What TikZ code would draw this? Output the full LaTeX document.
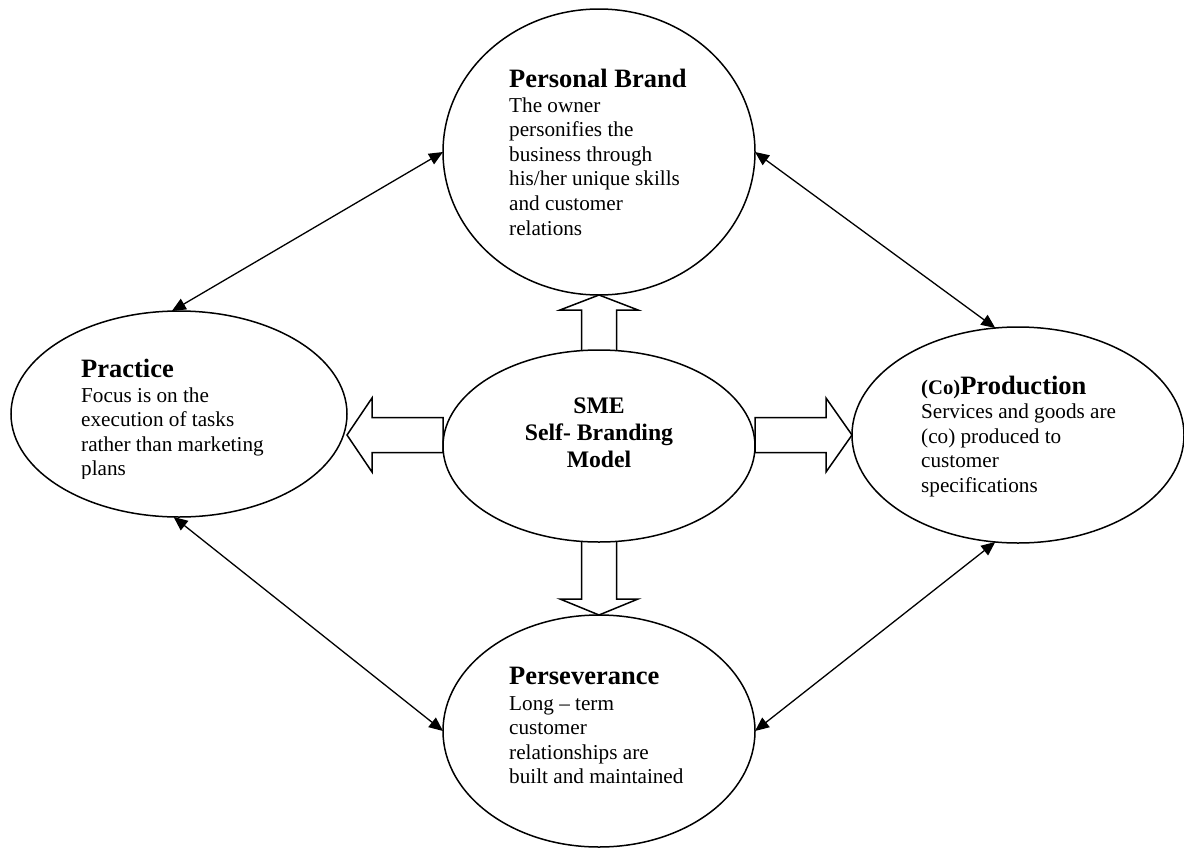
\documentclass[tikz,border=0pt]{standalone}
\usepackage{fontspec}
\setmainfont{Liberation Serif}
\usetikzlibrary{shapes.geometric,arrows.meta,calc}
\newcommand\bodyfnt{\fontsize{21.2}{24.6}\selectfont}
\newcommand\titlefnt{\fontsize{26.5}{30}\selectfont\bfseries}
\begin{document}
\begin{tikzpicture}[x=1pt,y=-1pt,
  ell/.style={ellipse,draw,line width=1.5pt,inner sep=0pt,outer sep=0pt},
  blk/.style={draw,line width=1.5pt,line join=miter},
  link/.style={line width=1.3pt,{Triangle[length=14pt,width=12pt]}-{Triangle[length=14pt,width=12pt]}},
  ttl/.style={anchor=base west,inner sep=0pt,font=\titlefnt},
  body/.style={anchor=base west,inner sep=0pt,align=left,font=\bodyfnt}]
\useasboundingbox[fill=white] (0,0) rectangle (1184,849);

% ellipses
\node[ell,minimum width=312pt,minimum height=286pt] (pb) at (599,152) {};
\node[ell,minimum width=336pt,minimum height=206pt] (prac) at (179,414) {};
\node[ell,minimum width=312pt,minimum height=192pt] (sme) at (599,446) {};
\node[ell,minimum width=332pt,minimum height=216pt] (prod) at (1018,435) {};
\node[ell,minimum width=312pt,minimum height=232pt] (per) at (599,731) {};

% texts (multi-line nodes are anchored at the baseline of their last line)
\node[ttl] (pbt) at (509,87) {Personal Brand};
\node[body] (pbb) at (509,235) {The owner\\personifies the\\business through\\his/her unique skills\\and customer\\relations};

\node[ttl] (pract) at (81,377) {Practice};
\begin{scope}
\clip (0,0) rectangle (1184,478);
\node[body] (pracb) at (81,475.8) {Focus is on the\\execution of tasks\\rather than marketing\\plans};
\end{scope}

\node[anchor=base,inner sep=0pt,align=center,font=\fontsize{23.7}{27}\selectfont\bfseries] (smet) at (599,467) {SME\\Self- Branding\\Model};

\node[ttl] (prodt) at (921,394) {{\fontsize{20.7}{24}\selectfont(Co)}Production};
\node[body] (prodb) at (921,492.3) {Services and goods are\\(co) produced to\\customer\\specifications};

\node[ttl] (pert) at (509,684) {Perseverance};
\node[body] (perb) at (509,783.8) {Long -- term\\customer\\relationships are\\built and maintained};

% block arrows
\draw[blk] ($(sme.north)+(-17.5,0)$) -- ($(pb.south)+(-17.5,15)$) -- ($(pb.south)+(-39,15)$) -- (pb.south) -- ($(pb.south)+(39,15)$) -- ($(pb.south)+(17.5,15)$) -- ($(sme.north)+(17.5,0)$);
\draw[blk] ($(sme.south)+(-17.5,0)$) -- ($(per.north)+(-17.5,-16)$) -- ($(per.north)+(-39,-16)$) -- (per.north) -- ($(per.north)+(39,-16)$) -- ($(per.north)+(17.5,-16)$) -- ($(sme.south)+(17.5,0)$);
\coordinate (ltip) at (prac.east |- prod.west);
\draw[blk] ($(sme.west)+(0,-28.5)$) -- ($(ltip)+(25,-17.5)$) -- ($(ltip)+(25,-37)$) -- (ltip) -- ($(ltip)+(25,37)$) -- ($(ltip)+(25,17.5)$) -- ($(sme.west)+(0,6.5)$) -- cycle;
\draw[blk] ($(sme.east)+(0,-28.5)$) -- ($(prod.west)+(-26,-17.5)$) -- ($(prod.west)+(-26,-37)$) -- (prod.west) -- ($(prod.west)+(-26,37)$) -- ($(prod.west)+(-26,17.5)$) -- ($(sme.east)+(0,6.5)$) -- cycle;

% thin double arrows
\draw[link] (pb.180) -- (prac.94);
\draw[link] (pb.0) -- (prod.102);
\draw[link] (prac.267) -- (per.180);
\draw[link] (prod.258) -- (per.0);
\end{tikzpicture}
\end{document}
